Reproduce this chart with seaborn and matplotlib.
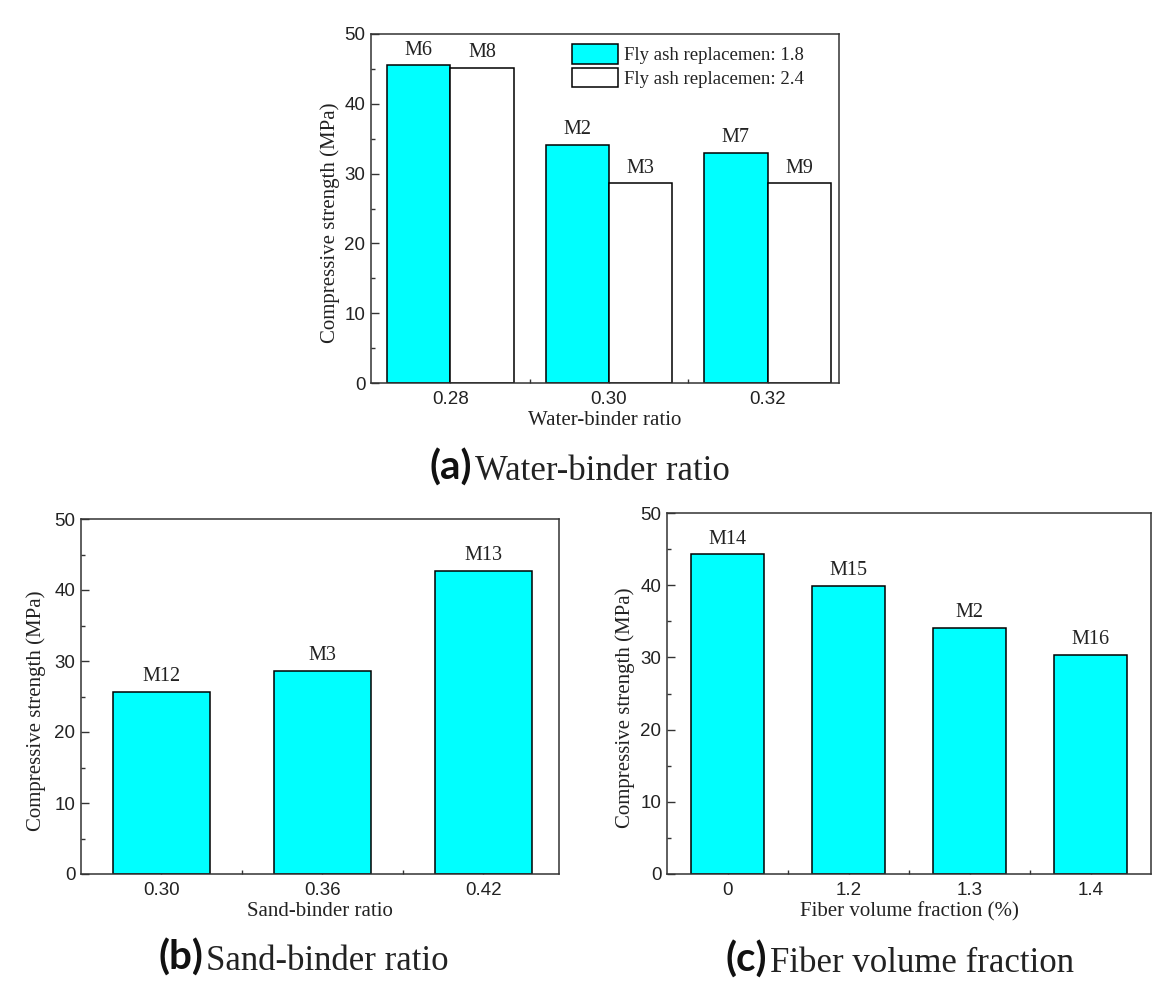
import numpy as np
import pandas as pd
import matplotlib
matplotlib.use("Agg")
import matplotlib.pyplot as plt
from matplotlib.ticker import MultipleLocator, FixedLocator
import seaborn as sns

# ---- data -------------------------------------------------------------
water_binder = ["0.28", "0.30", "0.32"]
fa_levels = ["1.8", "2.4"]
fa18_strength = [45.5, 34.1, 33.0]
fa18_ids = ["M6", "M2", "M7"]
fa24_strength = [45.2, 28.6, 28.6]
fa24_ids = ["M8", "M3", "M9"]

sand_binder = ["0.30", "0.36", "0.42"]
sand_strength = [25.7, 28.6, 42.7]
sand_ids = ["M12", "M3", "M13"]

fiber_fraction = ["0", "1.2", "1.3", "1.4"]
fiber_strength = [44.3, 39.9, 34.1, 30.4]
fiber_ids = ["M14", "M15", "M2", "M16"]

# ---- style ------------------------------------------------------------
sns.set_style("ticks")
SERIF = ["Liberation Serif", "DejaVu Serif"]
SANS = ["Liberation Sans", "DejaVu Sans"]
plt.rcParams["font.family"] = SANS
plt.rcParams["axes.linewidth"] = 1.1
plt.rcParams["axes.edgecolor"] = "#333333"

CYAN = "#00FFFF"
TXT = "#222222"
TICK_FS = 13.5
LABEL_FS = 15
BARLAB_FS = 14.5

W, H = 1167, 985
fig = plt.figure(figsize=(W / 100, H / 100), dpi=100)


def px_axes(left, top, right, bottom):
    return fig.add_axes([left / W, 1 - bottom / H, (right - left) / W, (bottom - top) / H])


def style_axes(ax, xlabel, xlim, ylabel_x):
    ax.set_ylim(0, 50)
    ax.set_xlim(*xlim)
    ax.yaxis.set_major_locator(MultipleLocator(10))
    ax.yaxis.set_minor_locator(MultipleLocator(5))
    ncat = len(ax.get_xticks())
    ax.xaxis.set_minor_locator(FixedLocator(np.arange(ncat - 1) + 0.5))
    for s in ax.spines.values():
        s.set_visible(True)
        s.set_linewidth(1.1)
        s.set_color("#333333")
    ax.tick_params(which="both", direction="in", top=False, right=False,
                   color="#333333", width=1.0)
    ax.tick_params(which="major", length=5.5, labelsize=TICK_FS, labelcolor=TXT)
    ax.tick_params(axis="x", which="major", pad=6)
    ax.tick_params(axis="y", which="major", pad=4)
    ax.tick_params(which="minor", length=3)
    ax.set_xlabel(xlabel, family=SERIF, fontsize=LABEL_FS, color=TXT, labelpad=2)
    ax.set_ylabel("Compressive strength (MPa)", family=SERIF, fontsize=LABEL_FS, color=TXT)
    ax.yaxis.set_label_coords(ylabel_x, 0.46)


def panel_title(x_split, y_base, tag, text):
    fig.text(x_split / W, 1 - y_base / H, tag, ha="right", va="baseline",
             family=["Lato", "DejaVu Sans"], fontweight="bold", fontsize=29, color="#111111")
    fig.text((x_split + 3) / W, 1 - y_base / H, text, ha="left", va="baseline",
             family=SERIF, fontsize=25, color=TXT)


# ---- (a) water-binder ratio -------------------------------------------
ax_a = px_axes(371, 34, 839, 383)
df_a = pd.DataFrame({
    "ratio": water_binder * 2,
    "fa": [fa_levels[0]] * 3 + [fa_levels[1]] * 3,
    "strength": fa18_strength + fa24_strength,
})
sns.barplot(data=df_a, x="ratio", y="strength", hue="fa", order=water_binder,
            hue_order=fa_levels, palette=[CYAN, "white"], saturation=1,
            width=0.8, edgecolor="black", linewidth=1.1, ax=ax_a)
if ax_a.get_legend() is not None:
    ax_a.get_legend().remove()
for cont, ids in zip(ax_a.containers, [fa18_ids, fa24_ids]):
    ax_a.bar_label(cont, labels=ids, padding=4, fontsize=BARLAB_FS,
                   family=SERIF, color=TXT)
style_axes(ax_a, "Water-binder ratio", (-0.5, 2.45), -0.066)
ax_a.legend(ax_a.containers, [f"Fly ash replacemen: {v}" for v in fa_levels],
            loc="upper left", bbox_to_anchor=(0.43, 0.97), frameon=False,
            prop={"family": SERIF, "size": 13.5}, handlelength=2.45,
            handleheight=1.2, handletextpad=0.3, labelspacing=0.2,
            borderpad=0, borderaxespad=0, labelcolor=TXT)
panel_title(472, 480, "(a)", "Water-binder ratio")

# ---- (b) sand-binder ratio --------------------------------------------
ax_b = px_axes(81, 519, 559, 874)
sns.barplot(x=sand_binder, y=sand_strength, order=sand_binder, color=CYAN,
            saturation=1, width=0.6, edgecolor="black", linewidth=1.1, ax=ax_b)
ax_b.bar_label(ax_b.containers[0], labels=sand_ids, padding=4,
               fontsize=BARLAB_FS, family=SERIF, color=TXT)
style_axes(ax_b, "Sand-binder ratio", (-0.5, 2.47), -0.074)
panel_title(203, 970, "(b)", "Sand-binder ratio")

# ---- (c) fiber volume fraction ----------------------------------------
ax_c = px_axes(667, 513, 1151, 874)
sns.barplot(x=fiber_fraction, y=fiber_strength, order=fiber_fraction, color=CYAN,
            saturation=1, width=0.6, edgecolor="black", linewidth=1.1, ax=ax_c)
ax_c.bar_label(ax_c.containers[0], labels=fiber_ids, padding=4,
               fontsize=BARLAB_FS, family=SERIF, color=TXT)
style_axes(ax_c, "Fiber volume fraction (%)", (-0.5, 3.5), -0.067)
panel_title(767, 972, "(c)", "Fiber volume fraction")

fig.savefig("out.png", dpi=100, facecolor="white")
